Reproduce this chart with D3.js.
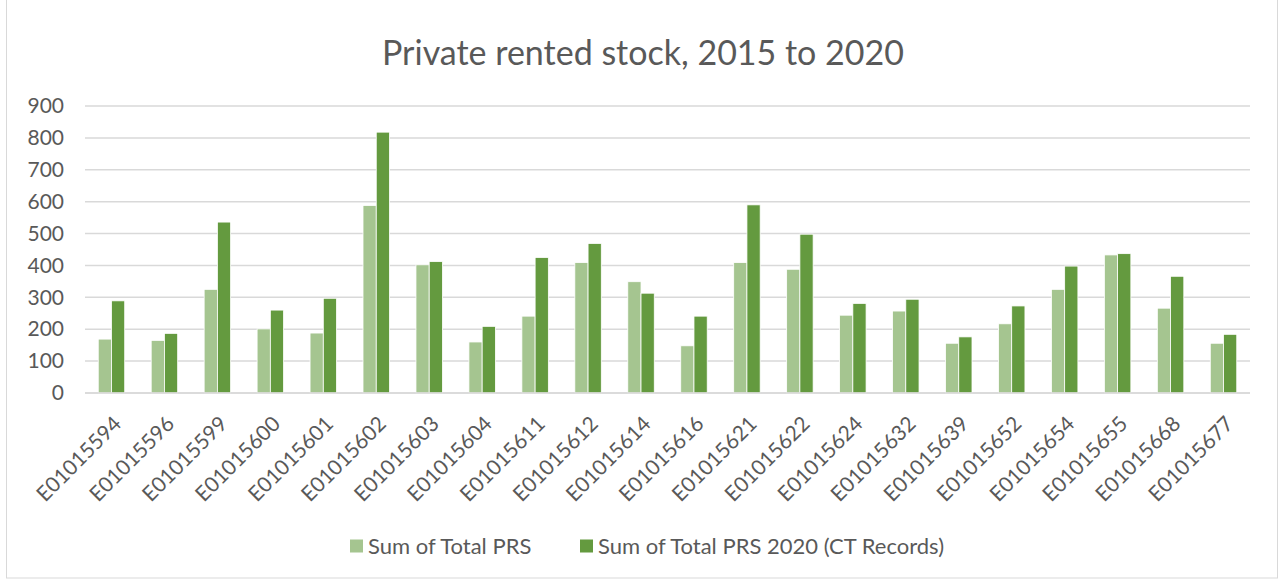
<!DOCTYPE html>
<html>
<head>
<meta charset="utf-8">
<script src="https://cdn.jsdelivr.net/npm/d3@7"></script>
<style>
    body { margin: 0; background: #fff; }
    svg { display: block; font-family: Lato, "Open Sans", sans-serif; }
</style>
</head>
<body>
<div id="chart"></div>
<script>
// data
const areas = ["E01015594", "E01015596", "E01015599", "E01015600", "E01015601", "E01015602",
    "E01015603", "E01015604", "E01015611", "E01015612", "E01015614", "E01015616",
    "E01015621", "E01015622", "E01015624", "E01015632", "E01015639", "E01015652",
    "E01015654", "E01015655", "E01015668", "E01015677"];
const totalPRS = [169, 165, 325, 201, 188, 588, 402, 160, 241, 409, 349, 148,
    409, 388, 244, 257, 156, 217, 325, 433, 266, 156];
const totalPRS2020 = [289, 187, 536, 260, 297, 818, 412, 209, 425, 469, 313, 241,
    590, 498, 281, 294, 176, 273, 398, 437, 366, 184];
const seriesNames = ["Sum of Total PRS", "Sum of Total PRS 2020 (CT Records)"];
const yTicks = [0, 100, 200, 300, 400, 500, 600, 700, 800, 900];

render();

function render() {
    const width = 1282, height = 581;
    const margin = { top: 106, right: 32, bottom: 188, left: 85 };
    const colors = ["#a5c590", "#649a3f"];

    const svg = d3.select('#chart').append('svg')
        .attr('width', width)
        .attr('height', height);

    // chart frame
    svg.append('rect')
        .attr('x', 6.5).attr('y', -1)
        .attr('width', 1271).attr('height', 579)
        .attr('fill', '#fff')
        .attr('stroke', '#d9d9d9');

    svg.append('text')
        .attr('x', 643).attr('y', 65)
        .attr('text-anchor', 'middle')
        .style('font-size', '34px')
        .style('fill', '#595959')
        .text('Private rented stock, 2015 to 2020');

    const x = d3.scaleBand()
        .domain(areas)
        .range([margin.left, width - margin.right])
        .paddingInner(0.5)
        .paddingOuter(0.25);

    const x1 = d3.scaleBand()
        .domain([0, 1])
        .range([0, x.bandwidth()]);

    const y = d3.scaleLinear()
        .domain([0, 900])
        .range([height - margin.bottom, margin.top]);

    // gridlines
    svg.append('g')
        .selectAll('line')
        .data(yTicks)
        .join('line')
        .attr('x1', margin.left)
        .attr('x2', width - margin.right)
        .attr('y1', d => y(d))
        .attr('y2', d => y(d))
        .attr('stroke', '#d9d9d9')
        .attr('stroke-width', 1.5);

    // y axis labels
    const yAxis = svg.append('g')
        .attr('transform', `translate(${margin.left - 21},0)`)
        .call(d3.axisLeft(y).tickValues(yTicks).tickSize(0).tickPadding(0));
    yAxis.select('.domain').remove();
    yAxis.selectAll('text')
        .style('font-size', '21px')
        .style('font-family', 'Lato, "Open Sans", sans-serif')
        .style('fill', '#595959');

    // bars
    const groups = svg.append('g')
        .selectAll('g')
        .data(areas)
        .join('g')
        .attr('transform', d => `translate(${x(d)},0)`);

    groups.selectAll('rect')
        .data((d, i) => [totalPRS[i], totalPRS2020[i]])
        .join('rect')
        .attr('x', (d, j) => x1(j))
        .attr('width', x1.bandwidth())
        .attr('y', d => y(d))
        .attr('height', d => y(0) - y(d))
        .attr('fill', (d, j) => colors[j])
        .attr('stroke', '#fff')
        .attr('stroke-width', 0.8);

    // x axis labels
    const xAxis = svg.append('g')
        .attr('transform', `translate(0,${y(0)})`)
        .call(d3.axisBottom(x).tickSize(0).tickPadding(0));
    xAxis.select('.domain')
        .attr('stroke', '#d9d9d9')
        .attr('stroke-width', 1.5)
        .attr('d', `M${margin.left},0H${width - margin.right}`);
    xAxis.selectAll('text')
        .style('font-size', '21px')
        .style('font-family', 'Lato, "Open Sans", sans-serif')
        .style('fill', '#595959')
        .attr('text-anchor', 'end')
        .attr('dy', '0.35em')
        .attr('transform', 'translate(6,27) rotate(-45)');

    // legend
    const legendX = [350, 580];
    const legend = svg.append('g')
        .selectAll('g')
        .data(seriesNames)
        .join('g')
        .attr('transform', (d, i) => `translate(${legendX[i]},546)`);
    legend.append('rect')
        .attr('x', 0).attr('y', -6.5)
        .attr('width', 13).attr('height', 13)
        .attr('fill', (d, i) => colors[i]);
    legend.append('text')
        .attr('x', 18).attr('y', 0)
        .attr('dy', '0.35em')
        .style('font-size', '22px')
        .style('fill', '#595959')
        .text(d => d);
}
</script>
</body>
</html>
